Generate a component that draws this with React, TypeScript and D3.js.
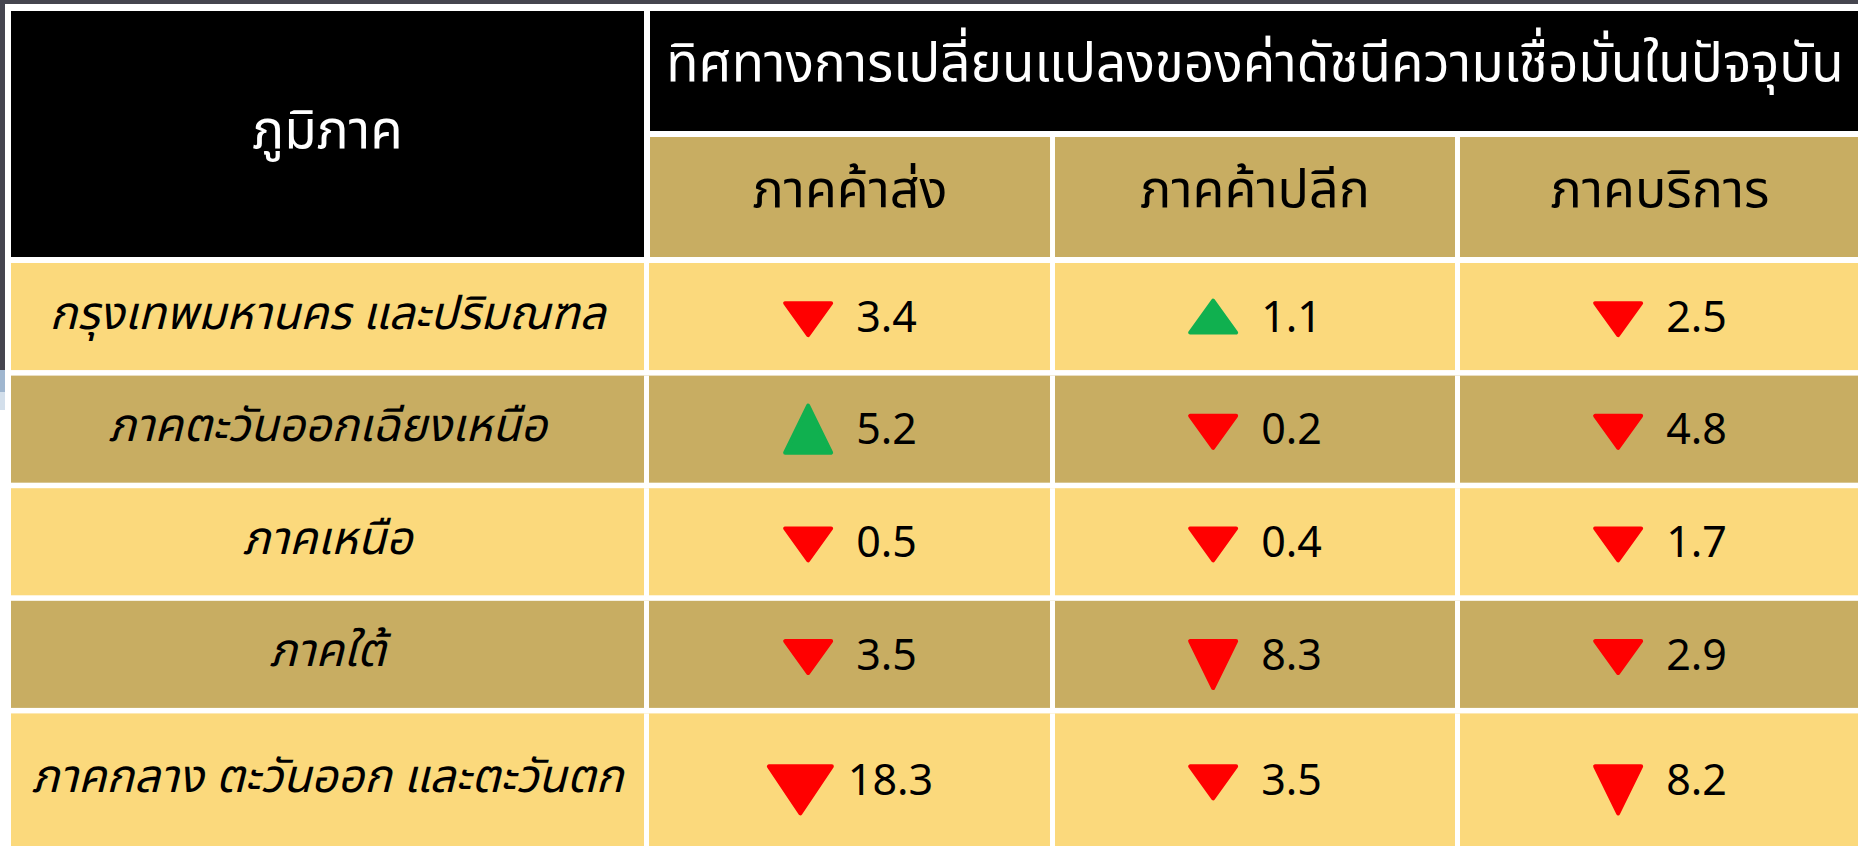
import React, { useEffect, useRef } from "react";
import * as d3 from "d3";

// Table content
const regionHeader = "ภูมิภาค";
const titleHeader = "ทิศทางการเปลี่ยนแปลงของค่าดัชนีความเชื่อมั่นในปัจจุบัน";
const sectors = ["ภาคค้าส่ง", "ภาคค้าปลีก", "ภาคบริการ"];
const regions = [
  "กรุงเทพมหานคร และปริมณฑล",
  "ภาคตะวันออกเฉียงเหนือ",
  "ภาคเหนือ",
  "ภาคใต้",
  "ภาคกลาง ตะวันออก และตะวันตก",
];
// signed change: negative = down (red), positive = up (green)
const wholesale = [-3.4, 5.2, -0.5, -3.5, -18.3];
const retail = [1.1, -0.2, -0.4, -8.3, -3.5];
const services = [-2.5, -4.8, -1.7, -2.9, -8.2];

const W = 1858;
const H = 846;
const THAI = "'Noto Sans Thai', 'Noto Sans', Tahoma, sans-serif";
const NUM = "'Noto Sans', 'Liberation Sans', sans-serif";

const App = () => {
  const ref = useRef<SVGSVGElement>(null);

  useEffect(() => {
    const svg = d3.select(ref.current);
    svg.selectAll("*").remove();

    const series = [wholesale, retail, services];

    // layout
    const left = 11;
    const firstColRight = 644;
    const headTop = 11;
    const headMid = 131;
    const headBottom = 257;
    const gap = 6;

    const x = d3
      .scaleBand()
      .domain(sectors)
      .range([650, 1860])
      .paddingInner(0.0123)
      .paddingOuter(0);

    const y = d3
      .scaleBand()
      .domain(regions)
      .range([263, 263 + 5 * 111.5])
      .paddingInner(0.049)
      .paddingOuter(0);

    const rowH = (r: string, i: number) => (i === regions.length - 1 ? H - y(r)! : y.bandwidth());

    const triSize = d3
      .scaleThreshold<number, { w: number; h: number }>()
      .domain([5, 10])
      .range([
        { w: 50, h: 36 },
        { w: 50, h: 51 },
        { w: 67, h: 51 },
      ]);

    const yellow = "#FBD97C";
    const tan = "#C8AD62";

    // page background
    svg.append("rect").attr("width", W).attr("height", H).attr("fill", "#ffffff");
    svg.append("rect").attr("width", W).attr("height", 4).attr("fill", "#45454f");
    svg.append("rect").attr("width", 5).attr("height", 370).attr("fill", "#45454f");
    svg.append("rect").attr("y", 370).attr("width", 5).attr("height", 22).attr("fill", "#9fb6cf");
    svg.append("rect").attr("y", 392).attr("width", 5).attr("height", 18).attr("fill", "#d3dfeb");

    // header cells
    svg
      .append("rect")
      .attr("x", left)
      .attr("y", headTop)
      .attr("width", firstColRight - left)
      .attr("height", headBottom - headTop)
      .attr("fill", "#000");
    svg
      .append("rect")
      .attr("x", x(sectors[0])!)
      .attr("y", headTop)
      .attr("width", 1860 - x(sectors[0])!)
      .attr("height", headMid - headTop)
      .attr("fill", "#000");

    svg
      .selectAll("rect.sector")
      .data(sectors)
      .enter()
      .append("rect")
      .attr("class", "sector")
      .attr("x", (d) => x(d)!)
      .attr("y", headMid + gap)
      .attr("width", x.bandwidth())
      .attr("height", headBottom - headMid - gap)
      .attr("fill", tan);

    svg
      .append("text")
      .attr("x", (left + firstColRight) / 2)
      .attr("y", 148)
      .attr("text-anchor", "middle")
      .attr("font-family", THAI)
      .attr("font-size", 53)
      .attr("fill", "#fff")
      .text(regionHeader);

    svg
      .append("text")
      .attr("x", (x(sectors[0])! + 1860) / 2)
      .attr("y", 81)
      .attr("text-anchor", "middle")
      .attr("font-family", THAI)
      .attr("font-size", 53)
      .attr("fill", "#fff")
      .text(titleHeader);

    svg
      .selectAll("text.sector")
      .data(sectors)
      .enter()
      .append("text")
      .attr("class", "sector")
      .attr("x", (d) => x(d)! + x.bandwidth() / 2)
      .attr("y", 207)
      .attr("text-anchor", "middle")
      .attr("font-family", THAI)
      .attr("font-size", 52)
      .attr("fill", "#000")
      .text((d) => d);

    // body rows
    const rows = svg
      .selectAll("g.row")
      .data(regions)
      .enter()
      .append("g")
      .attr("class", "row")
      .attr("transform", (d) => `translate(0, ${y(d)})`);

    rows
      .append("rect")
      .attr("x", left)
      .attr("width", 1860 - left)
      .attr("height", (d, i) => rowH(d, i))
      .attr("fill", (d, i) => (i % 2 === 0 ? yellow : tan));

    // white column separators
    rows
      .selectAll("rect.sep")
      .data([firstColRight, ...sectors.slice(1).map((s) => x(s)! - gap + 1)])
      .enter()
      .append("rect")
      .attr("class", "sep")
      .attr("x", (d) => d)
      .attr("width", gap - 1)
      .attr("height", H)
      .attr("fill", "#fff");

    rows
      .append("text")
      .attr("x", (left + firstColRight) / 2)
      .attr("y", (d, i) => rowH(d, i) / 2 + 12)
      .attr("text-anchor", "middle")
      .attr("font-family", THAI)
      .attr("font-size", 46)
      .attr("font-style", "italic")
      .attr("fill", "#000")
      .text((d) => d);

    const numSize = 43;
    const capH = numSize * 0.714;

    rows.each(function (region, ri) {
      const g = d3.select(this);
      const cy = rowH(region, ri) / 2;
      const baseline = cy + capH / 2;
      const capTop = baseline - capH;
      sectors.forEach((s, si) => {
        const v = series[si][ri];
        const mag = Math.abs(v);
        const { w, h } = triSize(mag);
        const spacing = mag >= 10 ? 14 : 23;
        const label = g
          .append("text")
          .attr("y", baseline)
          .attr("font-family", NUM)
          .attr("font-size", numSize)
          .attr("fill", "#000")
          .text(d3.format(".1f")(mag));
        const tw = (label.node() as SVGTextElement).getComputedTextLength();
        const cx = x(s)! + x.bandwidth() / 2;
        const x0 = cx - (w + spacing + tw) / 2;
        label.attr("x", x0 + w + spacing);

        const inset = 2;
        let pts: [number, number][];
        if (v < 0) {
          const t = capTop;
          pts = [
            [x0 + inset, t + inset],
            [x0 + w - inset, t + inset],
            [x0 + w / 2, t + h - inset],
          ];
        } else {
          const t = baseline - capH / 2 - h / 2;
          pts = [
            [x0 + w / 2, t + inset],
            [x0 + w - inset, t + h - inset],
            [x0 + inset, t + h - inset],
          ];
        }
        const color = v < 0 ? "#ff0000" : "#10b04f";
        g.append("path")
          .attr("d", d3.line()(pts) + "Z")
          .attr("fill", color)
          .attr("stroke", color)
          .attr("stroke-width", inset * 2)
          .attr("stroke-linejoin", "round");
      });
    });
  }, []);

  return (
    <div style={{ position: "fixed", left: 0, top: 0 }}>
      <svg ref={ref} width={W} height={H} style={{ display: "block" }} />
    </div>
  );
};

export default App;
